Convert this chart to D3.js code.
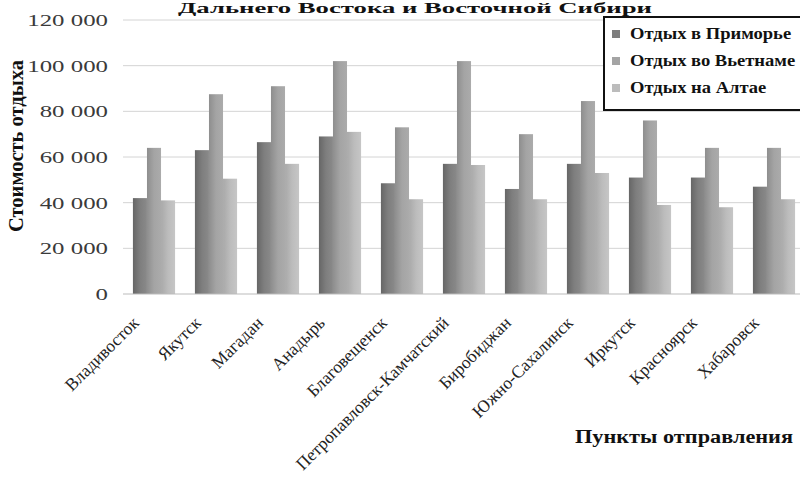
<!DOCTYPE html>
<html><head><meta charset="utf-8">
<script src="https://cdn.jsdelivr.net/npm/d3@7"></script>
<style>body{margin:0;background:#fff}svg{display:block}</style>
</head><body>
<svg id="c" width="800" height="477"></svg>
<script>
const cities = ["Владивосток","Якутск","Магадан","Анадырь","Благовещенск","Петропавловск-Камчатский","Биробиджан","Южно-Сахалинск","Иркутск","Красноярск","Хабаровск"];
const seriesNames = ["Отдых в Приморье","Отдых во Вьетнаме","Отдых на Алтае"];
const primorye = [42000,63000,66500,69000,48500,57000,46000,57000,51000,51000,47000];
const vietnam  = [64000,87500,91000,102000,73000,102000,70000,84500,76000,64000,64000];
const altai    = [41000,50500,57000,71000,41500,56500,41500,53000,39000,38000,41500];
const yTicks = [0,20000,40000,60000,80000,100000,120000];
const titleText = "Дальнего Востока и Восточной Сибири";
const yTitle = "Стоимость отдыха";
const xTitle = "Пункты отправления";

const values = [primorye, vietnam, altai];
const svg = d3.select("#c");
const font = "'Liberation Serif','Times New Roman',serif";

const defs = svg.append("defs");
const grads = [["#666","#7e7e7e","#8a8a8a"],["#8e8e8e","#a4a4a4","#ababab"],["#a9a9a9","#bcbcbc","#c6c6c6"]];
grads.forEach((g,i)=>{
  const lg = defs.append("linearGradient").attr("id","g"+i).attr("x1","0").attr("x2","1").attr("y1","0").attr("y2","0");
  lg.append("stop").attr("offset","0").attr("stop-color",g[0]);
  lg.append("stop").attr("offset","0.5").attr("stop-color",g[1]);
  lg.append("stop").attr("offset","1").attr("stop-color",g[2]);
});

const x0 = d3.scaleBand().domain(cities).range([123,805]).paddingInner(0.32).paddingOuter(0.16);
const x1 = d3.scaleBand().domain(d3.range(3)).range([0,x0.bandwidth()]);
const y = d3.scaleLinear().domain([0,120000]).range([294,20]);

// gridlines
svg.append("g").selectAll("line").data(yTicks.slice(1)).join("line")
  .attr("x1",123).attr("x2",800).attr("y1",d=>y(d)).attr("y2",d=>y(d))
  .attr("stroke","#d4d4d4").attr("stroke-width",1);

// y axis labels
const fmt = d=> d===0 ? "0" : d3.format(",")(d).replace(/,/g," ");
const yAxis = svg.append("g").attr("transform","translate(108,0)")
  .call(d3.axisLeft(y).tickValues(yTicks).tickFormat(fmt).tickSize(0).tickPadding(0));
yAxis.select(".domain").remove();
yAxis.selectAll("text").attr("font-family",font).attr("font-size",17.5).attr("fill","#3a3a3a")
  .attr("x",0).attr("transform","scale(1.42,1)");

// bars
const groups = svg.append("g").selectAll("g").data(cities).join("g")
  .attr("transform",d=>`translate(${x0(d)},0)`);
groups.selectAll("rect").data((d,i)=>values.map((v,s)=>({s, v:v[i]}))).join("rect")
  .attr("x",d=>x1(d.s)).attr("width",x1.bandwidth())
  .attr("y",d=>y(d.v)).attr("height",d=>y(0)-y(d.v))
  .attr("fill",d=>`url(#g${d.s})`);

// baseline
svg.append("line").attr("x1",123).attr("x2",800).attr("y1",y(0)).attr("y2",y(0)).attr("stroke","#bbb");

// x labels
const xAxis = svg.append("g").attr("transform",`translate(0,${y(0)})`)
  .call(d3.axisBottom(x0).tickSize(0).tickPadding(0));
xAxis.select(".domain").remove();
xAxis.selectAll("text")
  .attr("font-family",font).attr("font-size",17.5).attr("fill","#222")
  .attr("text-anchor","end").attr("dy",0).attr("y",0)
  .attr("transform","translate(-14,30) rotate(-45)");

// title
svg.append("text").attr("x",415).attr("y",13).attr("text-anchor","middle")
  .attr("font-family",font).attr("font-weight","bold").attr("font-size",14).attr("fill","#111")
  .attr("textLength",474).attr("lengthAdjust","spacingAndGlyphs").text(titleText);

// axis titles
svg.append("text").attr("transform","translate(23,146) rotate(-90)").attr("text-anchor","middle")
  .attr("font-family",font).attr("font-weight","bold").attr("font-size",20).attr("fill","#111")
  .attr("textLength",172).attr("lengthAdjust","spacingAndGlyphs").text(yTitle);
svg.append("text").attr("x",575).attr("y",443)
  .attr("font-family",font).attr("font-weight","bold").attr("font-size",18).attr("fill","#111")
  .attr("textLength",218).attr("lengthAdjust","spacingAndGlyphs").text(xTitle);

// legend
const lg = svg.append("g");
lg.append("rect").attr("x",604).attr("y",17).attr("width",200).attr("height",93)
  .attr("fill","#fff").attr("stroke","#111").attr("stroke-width",2);
const li = lg.selectAll("g.item").data(seriesNames).join("g").attr("class","item")
  .attr("transform",(d,i)=>`translate(612,${34+i*27})`);
li.append("rect").attr("x",0).attr("y",-4).attr("width",8).attr("height",8).attr("fill",(d,i)=>grads[i][1]);
li.append("text").attr("x",0).attr("y",5).attr("transform","translate(18,0) scale(1.16,1)")
  .attr("font-family",font).attr("font-weight","bold")
  .attr("font-size",16).attr("fill","#111").text(d=>d);
</script>
</body></html>
